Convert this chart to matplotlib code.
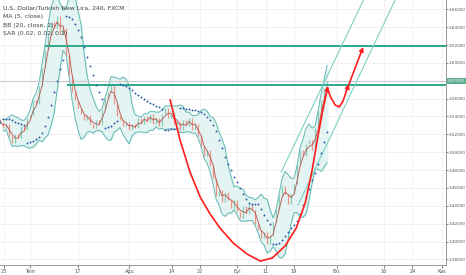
import matplotlib
matplotlib.use("Agg")
import matplotlib.pyplot as plt
import matplotlib.transforms as mtransforms
import numpy as np
import pandas as pd

# ── data (4h closes, resampled) ──────────────────────────────────────────────
closes = [
    3.5338, 3.5271, 3.5316, 3.5181, 3.5103, 3.5204, 3.5159, 3.5293, 3.5248, 3.5383,
    3.5416, 3.5584, 3.5540, 3.5741, 3.5943, 3.6144, 3.6312, 3.6458, 3.6391, 3.6525,
    3.6323, 3.6391, 3.6088, 3.5853, 3.5674, 3.5584, 3.5495, 3.5428, 3.5360, 3.5416,
    3.5316, 3.5271, 3.5360, 3.5304, 3.5472, 3.5607, 3.5674, 3.5764, 3.5540, 3.5405,
    3.5360, 3.5293, 3.5338, 3.5248, 3.5316, 3.5271, 3.5383, 3.5316, 3.5405, 3.5338,
    3.5428, 3.5316, 3.5383, 3.5293, 3.5428, 3.5495, 3.5383, 3.5428, 3.5316, 3.5338,
    3.5248, 3.5360, 3.5293, 3.5383, 3.5248, 3.5316, 3.5181, 3.5069, 3.4957, 3.5024,
    3.4845, 3.4711, 3.4509, 3.4577, 3.4442, 3.4554, 3.4465, 3.4375, 3.4465, 3.4330,
    3.4263, 3.4397, 3.4308, 3.4420, 3.4352, 3.4196, 3.4129, 3.4039, 3.4106, 3.3972,
    3.4061, 3.4218, 3.4352, 3.4509, 3.4621, 3.4532, 3.4420, 3.4532, 3.4644, 3.4868,
    3.5024, 3.4957, 3.5092, 3.5136, 3.5024, 3.5271, 3.5472, 3.5584, 3.5719, 3.5792,
]
last_price = 3.57920

# horizontal levels: (price, first bar)
levels = [(3.6189, 15.0), (3.5752, 22.3)]

# rising channel: (bar, price) endpoints
channel_upper = [(93.7, 3.4778), (122.5, 3.6800)]
channel_lower = [(99.3, 3.4408), (133.0, 3.6800)]

# drawn cup (bar, price)
cup_x = [56.7, 60.0, 63.3, 66.7, 70.0, 73.3, 77.7, 82.3, 86.7, 90.7, 95.0, 98.7, 101.7, 104.0, 106.0, 107.7, 109.3]
cup_y = [3.5584, 3.5136, 3.4778, 3.4498, 3.4308, 3.4151, 3.3983, 3.3860, 3.3781, 3.3815,
         3.3950, 3.4151, 3.4431, 3.4800, 3.5192, 3.5495, 3.5741]
# pullback + target
hump_x = [109.0, 110.3, 111.7, 113.0, 114.3, 115.3, 116.3]
hump_y = [3.5719, 3.5607, 3.5528, 3.5506, 3.5573, 3.5674, 3.5764]
target_x = [116.3, 121.0]
target_y = [3.5764, 3.6178]

tick_pos = [1.2, 10.0, 25.9, 43.1, 57.2, 66.7, 79.1, 88.6, 98.0, 112.2, 128.0, 137.4, 147.2]
tick_labels = ["23", "Tem", "17", "Ağu", "14", "22", "Eyl", "11", "19", "Eki", "16", "24", "Kas"]
y_ticks = [3.38, 3.40, 3.42, 3.44, 3.46, 3.48, 3.50, 3.52, 3.54, 3.56, 3.58, 3.60, 3.62, 3.64, 3.66]

MA_WIN = 3
BB_WIN = 7
BB_K = 2.0


def parabolic_sar(high, low, step=0.02, max_step=0.2):
    n = len(high)
    sar = np.zeros(n)
    bull = True
    af = step
    ep = high[0]
    sar[0] = low[0]
    for i in range(1, n):
        s = sar[i - 1] + af * (ep - sar[i - 1])
        if bull:
            s = min(s, low[i - 1], low[max(i - 2, 0)])
            if low[i] < s:
                bull, s, ep, af = False, ep, low[i], step
            elif high[i] > ep:
                ep = high[i]
                af = min(af + step, max_step)
        else:
            s = max(s, high[i - 1], high[max(i - 2, 0)])
            if high[i] > s:
                bull, s, ep, af = True, ep, high[i], step
            elif low[i] < ep:
                ep = low[i]
                af = min(af + step, max_step)
        sar[i] = s
    return sar


c = pd.Series(closes)
o = c.shift(1).fillna(c.iloc[0] + 0.003)
x = np.arange(len(c))
hi = np.maximum(o, c).values
lo = np.minimum(o, c).values

ma = c.rolling(MA_WIN, min_periods=1).mean()
mid = c.rolling(BB_WIN, min_periods=2).mean()
sd = c.rolling(BB_WIN, min_periods=2).std(ddof=0)
upper = mid + BB_K * sd
lower = mid - BB_K * sd
sar = parabolic_sar(hi, lo)

# ── figure ───────────────────────────────────────────────────────────────────
fig = plt.figure(figsize=(4.66, 2.75), dpi=100)
ax = fig.add_axes([0, 10 / 275, 446 / 466, 265 / 275])
ax.set_xlim(0, 148.6)
ax.set_ylim(3.3737, 3.6704)

ax.set_xticks(tick_pos)
ax.set_xticklabels(tick_labels)
ax.set_yticks(y_ticks)
# the 3.58 label sits under the last-price tag
ax.set_yticklabels(["" if abs(v - 3.58) < 1e-9 else f"{v:.5f}" for v in y_ticks])
ax.yaxis.tick_right()
ax.tick_params(axis="y", labelsize=3.0, colors="#555555", length=1.5, width=0.5, pad=0.8)
ax.tick_params(axis="x", labelsize=3.6, colors="#555555", length=2, width=0.5, pad=3.9)
for lbl in ax.get_xticklabels():
    lbl.set_verticalalignment("baseline")
ax.grid(True, color="#efefef", lw=0.6)
ax.set_axisbelow(True)
for side in ("top", "left"):
    ax.spines[side].set_visible(False)
for side in ("right", "bottom"):
    ax.spines[side].set_color("#999999")
    ax.spines[side].set_linewidth(0.7)

# bollinger
ax.fill_between(x, lower, upper, color="#e4f4f3", zorder=1)
ax.plot(x, upper, color="#62b9b1", lw=0.7, zorder=2)
ax.plot(x, lower, color="#62b9b1", lw=0.7, zorder=2)

# candles
up = c.values >= o.values
ax.vlines(x[up], o.values[up], c.values[up], color="#86cbb5", lw=0.9, zorder=3)
ax.vlines(x[~up], o.values[~up], c.values[~up], color="#e99484", lw=0.9, zorder=3)
ax.plot(x, ma, color="#b8514a", lw=0.6, zorder=4)
ax.plot(x, sar, "o", ms=1.4, mew=0, color="#2e5fa6", zorder=5)

# levels
ax.axhline(last_price, color="#cccccc", lw=0.8, zorder=2)
for price, start in levels:
    ax.hlines(price, start, 148.6, color="#2ea88c", lw=1.4, zorder=4)
for seg in (channel_upper, channel_lower):
    ax.plot([p[0] for p in seg], [p[1] for p in seg], color="#7dcfc2", lw=0.8, zorder=4)

# drawn forecast
red = "#ff1c1c"
arrow = dict(arrowstyle="-|>", color=red, lw=1.2, mutation_scale=6, shrinkA=0, shrinkB=0)
ax.plot(cup_x[:-1], cup_y[:-1], color=red, lw=1.2, zorder=6)
ax.annotate("", xy=(cup_x[-1], cup_y[-1]), xytext=(cup_x[-2], cup_y[-2]), arrowprops=arrow, zorder=6)
ax.plot(hump_x[:-1], hump_y[:-1], color=red, lw=1.2, zorder=6)
ax.annotate("", xy=(hump_x[-1], hump_y[-1]), xytext=(hump_x[-2], hump_y[-2]), arrowprops=arrow, zorder=6)
ax.annotate("", xy=(target_x[1], target_y[1]), xytext=(target_x[0], target_y[0]), arrowprops=arrow, zorder=6)

# legend text
legend_lines = ["U.S. Dollar/Turkish New Lira, 240, FXCM", "MA (5, close)", "BB (20, close, 2)", "SAR (0.02, 0.02, 0.2)"]
for i, t in enumerate(legend_lines):
    ax.text(0.007, 1 - (8.3 + 8.4 * i) / 265, t, transform=ax.transAxes, fontsize=4.4,
            color="#444444", va="center", ha="left", zorder=7)

# last price tag
trans = mtransforms.blended_transform_factory(ax.transAxes, ax.transData)
ax.text(1.005, last_price, f"{last_price:.5f}", transform=trans, fontsize=3.0, color="white",
        va="center", ha="left", clip_on=False, zorder=8,
        bbox=dict(facecolor="#5fae8f", edgecolor="none", pad=0.7))

plt.savefig("out.png", dpi=100)
